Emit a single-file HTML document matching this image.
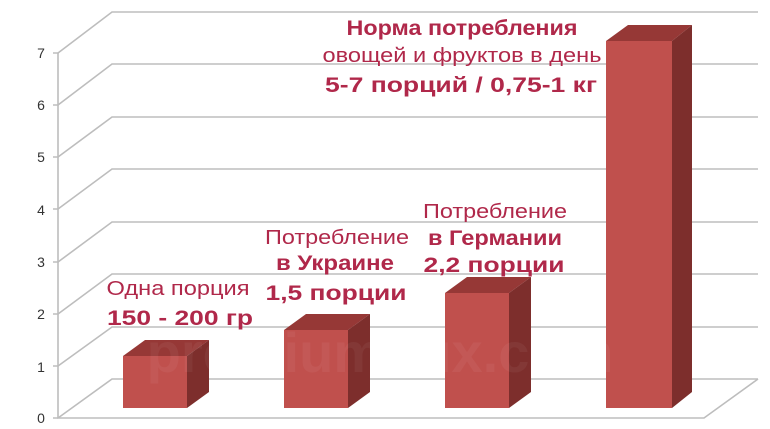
<!DOCTYPE html>
<html><head><meta charset="utf-8"><style>html,body{margin:0;padding:0;background:#fff}svg{display:block}</style></head><body>
<svg width="770" height="429" viewBox="0 0 770 429" xmlns="http://www.w3.org/2000/svg" font-family="Liberation Sans, sans-serif">
<g stroke="#bdbdbd" stroke-width="1.6" fill="none">
<path d="M58 418 L112 379 L758 379"/>
<path d="M58 366 L112 327 L758 327"/>
<path d="M58 314 L112 274 L758 274"/>
<path d="M58 262 L112 222 L758 222"/>
<path d="M58 209 L112 169 L758 169"/>
<path d="M58 157 L112 117 L758 117"/>
<path d="M58 105 L112 64 L758 64"/>
<path d="M58 53 L112 12 L758 12"/>
<path d="M58 53 L58 418 L704 418 L758 379"/>
<path d="M53 418h5M53 366h5M53 314h5M53 262h5M53 209h5M53 157h5M53 105h5M53 53h5"/>
</g>
<g font-size="14" fill="#333" text-anchor="middle">
<text x="41" y="423">0</text><text x="41" y="372">1</text><text x="41" y="319">2</text><text x="41" y="267">3</text><text x="41" y="215">4</text><text x="41" y="162">5</text><text x="41" y="110">6</text><text x="41" y="58">7</text>
</g>
<g>
<polygon points="123,356 145,340 209,340 187,356" fill="#963836"/>
<polygon points="187,356 209,340 209,392 187,408" fill="#7d2e2c"/>
<rect x="123" y="356" width="64" height="52" fill="#c0504d"/>
<polygon points="284,330 306,314 370,314 348,330" fill="#963836"/>
<polygon points="348,330 370,314 370,392 348,408" fill="#7d2e2c"/>
<rect x="284" y="330" width="64" height="78" fill="#c0504d"/>
<polygon points="445,293 467,277 531,277 509,293" fill="#963836"/>
<polygon points="509,293 531,277 531,392 509,408" fill="#7d2e2c"/>
<rect x="445" y="293" width="64" height="115" fill="#c0504d"/>
<polygon points="606,41 628,25 692,25 672,41" fill="#963836"/>
<polygon points="672,41 692,25 692,392 672,408" fill="#7d2e2c"/>
<rect x="606" y="41" width="66" height="367" fill="#c0504d"/>
</g>
<text x="380" y="372" font-size="56" font-weight="bold" fill="#ffffff" fill-opacity="0.05" text-anchor="middle">premium-lux.com</text>
<g fill="#b0284a" text-anchor="middle">
<text x="462" y="35" font-size="21" font-weight="bold" textLength="231" lengthAdjust="spacingAndGlyphs">Норма потребления</text>
<text x="462" y="62" font-size="20" textLength="279" lengthAdjust="spacingAndGlyphs">овощей и фруктов в день</text>
<text x="461" y="92" font-size="21" font-weight="bold" textLength="272" lengthAdjust="spacingAndGlyphs">5-7 порций / 0,75-1 кг</text>
<text x="495" y="218" font-size="20" textLength="144" lengthAdjust="spacingAndGlyphs">Потребление</text>
<text x="495" y="245" font-size="21" font-weight="bold" textLength="134" lengthAdjust="spacingAndGlyphs">в Германии</text>
<text x="494" y="272" font-size="21" font-weight="bold" textLength="141" lengthAdjust="spacingAndGlyphs">2,2 порции</text>
<text x="337" y="244" font-size="20" textLength="144" lengthAdjust="spacingAndGlyphs">Потребление</text>
<text x="335" y="270" font-size="21" font-weight="bold" textLength="118" lengthAdjust="spacingAndGlyphs">в Украине</text>
<text x="336" y="300" font-size="21" font-weight="bold" textLength="141" lengthAdjust="spacingAndGlyphs">1,5 порции</text>
<text x="178" y="295" font-size="20" textLength="143" lengthAdjust="spacingAndGlyphs">Одна порция</text>
<text x="180" y="325" font-size="21" font-weight="bold" textLength="146" lengthAdjust="spacingAndGlyphs">150 - 200 гр</text>
</g>
</svg>
</body></html>
